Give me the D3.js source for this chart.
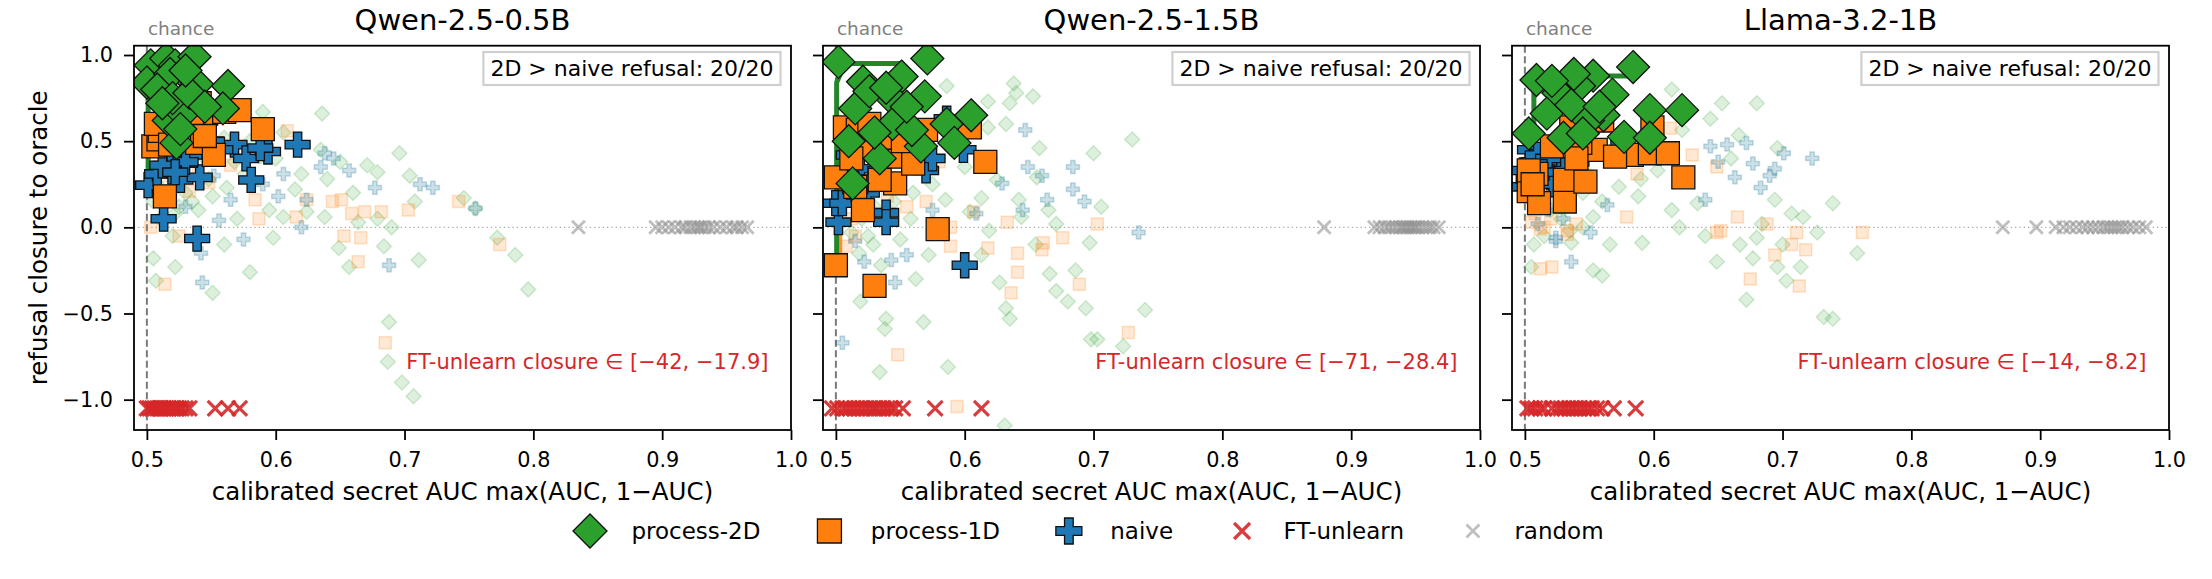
<!DOCTYPE html>
<html lang="en">
  <head>
    <meta charset="UTF-8" />
    <title>Refusal closure vs secret AUC</title>
    <script src="https://d3js.org/d3.v7.min.js"></script>
    <style>
      body {
        margin: 0;
        background: #fff;
      }
      svg {
        display: block;
        font-family: "DejaVu Sans", sans-serif;
      }
    </style>
  </head>
  <body>
    <div id="chart"></div>
    <script>
      // ---- data: [AUC, refusal closure] pairs ----
      const titles = ["Qwen-2.5-0.5B", "Qwen-2.5-1.5B", "Llama-3.2-1B"];
      const ftRanges = ["[−42, −17.9]", "[−71, −28.4]", "[−14, −8.2]"];
      const winCounts = ["20/20", "20/20", "20/20"];

      const xTicks = [0.5, 0.6, 0.7, 0.8, 0.9, 1.0];
      const yTicks = [-1.0, -0.5, 0.0, 0.5, 1.0];

      // Qwen-2.5-0.5B
      const q05_proc2d = [[.503,.94],[.500,.84],[.515,.98],[.522,.94],[.537,.99],[.532,.87],[.539,.83],[.563,.82],[.559,.69],[.517,.62],[.528,.66],[.523,.49],[.518,.89],[.508,.80],[.520,.75],[.533,.78],[.526,.57],[.545,.70],[.512,.72],[.530,.91]];
      const q05_proc1d = [[.505,.47],[.509,.51],[.510,.56],[.514,.18],[.520,.74],[.531,.51],[.539,.49],[.541,.72],[.546,.66],[.552,.42],[.560,.67],[.572,.68],[.590,.57],[.516,.62],[.525,.55],[.535,.61],[.507,.60],[.528,.70],[.545,.53],[.518,.48]];
      const q05_naive = [[.501,.245],[.508,.31],[.519,.36],[.526,.275],[.541,.29],[.536,.42],[.546,.47],[.568,.48],[.577,.40],[.581,.275],[.594,.44],[.617,.48],[.513,.05],[.539,-.065],[.550,.50],[.512,.36],[.530,.38],[.557,.45],[.588,.46],[.522,.32]];
      const q05_ft = [.500,.502,.504,.506,.508,.510,.511,.513,.515,.517,.519,.521,.523,.525,.527,.530,.533,.553,.563,.572];
      const q05_random = [.835,.895,.900,.905,.910,.915,.918,.922,.925,.928,.930,.933,.936,.940,.945,.950,.955,.958,.962,.966];
      const q05_front2d = [[.501,.25],[.501,.84],[.503,.94]];
      const q05_front1d = [];
      const q05_faint2d = [[.636,.66],[.696,.43],[.671,.36],[.679,.32],[.704,.30],[.708,.15],[.746,.17],[.755,.11],[.590,.67],[.606,.55],[.588,.41],[.620,.31],[.551,.18],[.540,.10],[.522,.08],[.624,.09],[.638,.06],[.664,.03],[.679,.05],[.598,-.06],[.649,-.12],[.657,-.23],[.684,-.11],[.711,-.19],[.772,-.06],[.786,-.16],[.796,-.36],[.522,-.23],[.580,-.26],[.551,-.38],[.507,-.31],[.606,.06],[.562,.23],[.576,.31],[.635,.45],[.688,-.55],[.687,-.78],[.698,-.90],[.707,-.98],[.530,.20],[.515,.35],[.545,.40],[.560,.52],[.580,.50],[.600,.40],[.650,.38],[.660,.20],[.690,.00],[.570,.05],[.510,.05],[.505,.15],[.615,.22],[.640,.28],[.520,-.05],[.560,-.10],[.505,-.18],[.512,.22],[.535,.15],[.548,.28],[.525,.12],[.568,.38],[.595,.10]];
      const q05_faint1d = [[.609,.56],[.742,.15],[.703,.10],[.682,.09],[.669,.09],[.659,.08],[.651,.16],[.644,.15],[.624,.16],[.616,.06],[.587,.05],[.584,.16],[.774,-.10],[.666,-.06],[.653,-.05],[.525,-.05],[.664,-.20],[.514,-.33],[.503,.00],[.533,.21],[.565,.36],[.685,-.67],[.548,.26],[.520,.52],[.512,.30],[.540,.33]];
      const q05_faintNaive = [[.638,.43],[.657,.33],[.677,.23],[.712,.25],[.722,.23],[.755,.11],[.624,.16],[.620,.00],[.575,-.07],[.542,-.15],[.688,-.22],[.543,-.32],[.556,.04],[.565,.16],[.606,.31],[.635,.35],[.602,.18],[.645,.40],[.590,.25],[.530,.12],[.518,.20],[.552,.30]];

      // Qwen-2.5-1.5B
      const q15_proc2d = [[.502,.96],[.571,.98],[.521,.845],[.551,.875],[.569,.76],[.543,.75],[.515,.69],[.544,.60],[.586,.60],[.605,.65],[.510,.50],[.566,.47],[.592,.49],[.534,.40],[.513,.255],[.559,.565],[.526,.79],[.539,.81],[.530,.55],[.555,.70]];
      const q15_proc1d = [[.500,-.22],[.530,-.34],[.579,-.01],[.507,.58],[.517,.565],[.526,.60],[.526,.47],[.544,.41],[.546,.255],[.500,.29],[.534,.275],[.521,.10],[.616,.38],[.570,.565],[.604,.58],[.560,.37],[.515,.235],[.538,.52],[.552,.50],[.512,.40]];
      const q15_naive = [[.502,.03],[.500,.14],[.539,.085],[.519,.34],[.570,.33],[.586,.63],[.599,.45],[.524,.20],[.505,.14],[.600,-.22],[.539,.03],[.510,.42],[.530,.45],[.555,.38],[.545,.52],[.565,.55],[.508,.30],[.528,.28],[.575,.40],[.515,.22]];
      const q15_ft = [.497,.501,.505,.508,.511,.514,.517,.520,.523,.526,.529,.531,.534,.537,.540,.543,.546,.552,.577,.613];
      const q15_random = [.879,.918,.922,.926,.929,.932,.935,.938,.940,.942,.944,.946,.948,.950,.952,.955,.958,.961,.964,.968];
      const q15_front2d = [[.5006,-.15],[.5006,.84],[.507,.95],[.552,.95]];
      const q15_front1d = [[.503,-.15],[.503,.30]];
      const q15_faint2d = [[.638,.835],[.640,.78],[.653,.76],[.635,.72],[.618,.73],[.586,.82],[.618,.58],[.632,.60],[.658,.46],[.700,.43],[.706,.12],[.625,.275],[.613,.17],[.585,.16],[.604,.09],[.642,.16],[.644,.06],[.671,.02],[.656,.29],[.730,.51],[.550,-.07],[.529,-.10],[.535,-.22],[.519,-.43],[.539,-.53],[.538,-.59],[.568,-.55],[.534,-.84],[.587,-.81],[.613,-.16],[.562,-.30],[.627,-.32],[.632,-.47],[.635,-.53],[.671,-.37],[.680,-.43],[.694,-.47],[.686,-.25],[.666,-.27],[.698,-.65],[.631,-1.15],[.697,-.09],[.655,-.10],[.619,-.02],[.572,-.16],[.518,-.15],[.740,-.48],[.703,-.65],[.723,-.69],[.560,.20],[.540,.30],[.575,.25],[.600,.35],[.520,.05],[.590,.45],[.665,.10],[.530,.12],[.512,-.03],[.545,.15],[.525,-.05],[.558,.05]];
      const q15_faint1d = [[.703,.02],[.633,.03],[.607,.09],[.661,-.09],[.589,.00],[.555,.12],[.570,.15],[.618,-.12],[.641,-.15],[.660,-.13],[.676,-.06],[.641,-.26],[.636,-.38],[.689,-.33],[.589,-.11],[.548,-.74],[.594,-1.04],[.508,-.11],[.727,-.61],[.530,.08],[.515,-.05],[.580,.38],[.512,.05],[.540,.18]];
      const q15_faintNaive = [[.647,.565],[.649,.35],[.684,.35],[.629,.255],[.684,.22],[.693,.15],[.645,.10],[.664,.16],[.609,.08],[.555,-.16],[.543,-.19],[.522,-.20],[.546,-.32],[.505,-.67],[.735,-.03],[.620,.40],[.660,.30],[.575,.10],[.515,-.08]];

      // Llama-3.2-1B
      const l1_proc2d = [[.509,.855],[.584,.93],[.553,.88],[.542,.82],[.526,.78],[.568,.77],[.517,.66],[.561,.65],[.549,.62],[.597,.68],[.622,.68],[.503,.545],[.530,.52],[.577,.525],[.597,.52],[.545,.545],[.536,.71],[.558,.70],[.538,.89],[.521,.85]];
      const l1_proc1d = [[.503,.21],[.511,.14],[.531,.15],[.531,.275],[.547,.265],[.509,.31],[.503,.33],[.555,.45],[.583,.42],[.597,.43],[.611,.43],[.623,.29],[.599,.58],[.536,.58],[.543,.49],[.521,.47],[.570,.41],[.506,.25],[.560,.62],[.540,.40]];
      const l1_naive = [[.499,.33],[.504,.45],[.507,.38],[.516,.36],[.524,.38],[.535,.35],[.520,.29],[.499,.235],[.570,.44],[.512,.27],[.528,.31],[.510,.42],[.503,.28],[.518,.40],[.540,.38],[.531,.33],[.506,.31],[.522,.25],[.545,.42],[.514,.32]];
      const l1_ft = [.502,.505,.508,.512,.515,.521,.525,.528,.531,.534,.537,.540,.543,.546,.549,.552,.556,.560,.569,.586];
      const l1_random = [.871,.897,.912,.918,.923,.928,.933,.937,.941,.945,.949,.952,.955,.958,.961,.964,.968,.972,.977,.982];
      const l1_front2d = [[.507,.60],[.507,.855],[.529,.878],[.582,.878]];
      const l1_front1d = [];
      const l1_faint2d = [[.614,.80],[.653,.72],[.680,.72],[.644,.63],[.666,.535],[.696,.46],[.622,.565],[.603,.33],[.573,.235],[.588,.18],[.614,.10],[.634,.14],[.694,.16],[.684,.02],[.716,.06],[.553,.06],[.535,-.02],[.507,-.10],[.536,-.09],[.566,-.10],[.591,-.09],[.553,-.25],[.560,-.28],[.649,-.20],[.667,-.10],[.677,-.18],[.672,-.42],[.696,-.23],[.714,-.23],[.703,-.31],[.680,-.06],[.505,-.23],[.732,-.52],[.739,-.53],[.758,-.15],[.739,.14],[.707,.08],[.727,-.03],[.520,.10],[.545,.20],[.530,.35],[.575,.40],[.600,.50],[.590,.28],[.560,.15],[.625,.30],[.660,.40],[.515,-.05],[.545,.00],[.640,-.05],[.700,-.10],[.620,.00],[.510,.15],[.528,.05],[.550,.30]];
      const l1_faint1d = [[.613,.575],[.630,.42],[.649,.35],[.587,.31],[.579,.06],[.665,.06],[.688,.02],[.711,-.03],[.652,-.02],[.533,-.02],[.649,-.03],[.694,-.16],[.707,-.10],[.718,-.13],[.675,-.30],[.713,-.34],[.512,-.24],[.521,-.23],[.533,-.04],[.512,-.01],[.762,-.03],[.505,.03],[.520,.05],[.540,.02],[.508,.08],[.515,.00]];
      const l1_faintNaive = [[.644,.47],[.657,.48],[.672,.49],[.677,.37],[.663,.29],[.694,.34],[.701,.43],[.640,.16],[.564,.13],[.524,-.06],[.536,-.20],[.524,-.08],[.551,-.03],[.723,.40],[.683,.23],[.510,.02],[.530,.05],[.690,.30],[.650,.38],[.518,.10]];

      const FT_Y = -1.05; // FT-unlearn values are off-scale, drawn at the floor
      const RANDOM_Y = 0.0;

      const panels = [
        { title: titles[0], ft: ftRanges[0], wins: winCounts[0], p2d: q05_proc2d, p1d: q05_proc1d, naive: q05_naive, ftx: q05_ft, rnd: q05_random, f2d: q05_front2d, f1d: q05_front1d, g2d: q05_faint2d, g1d: q05_faint1d, gnv: q05_faintNaive },
        { title: titles[1], ft: ftRanges[1], wins: winCounts[1], p2d: q15_proc2d, p1d: q15_proc1d, naive: q15_naive, ftx: q15_ft, rnd: q15_random, f2d: q15_front2d, f1d: q15_front1d, g2d: q15_faint2d, g1d: q15_faint1d, gnv: q15_faintNaive },
        { title: titles[2], ft: ftRanges[2], wins: winCounts[2], p2d: l1_proc2d, p1d: l1_proc1d, naive: l1_naive, ftx: l1_ft, rnd: l1_random, f2d: l1_front2d, f1d: l1_front1d, g2d: l1_faint2d, g1d: l1_faint1d, gnv: l1_faintNaive },
      ];

      const GREEN = "#2ca02c", ORANGE = "#ff7f0e", BLUE = "#1f77b4", RED = "#d62728";

      // ---- layout ----
      const W = 2212, H = 579;
      const panelLefts = [134, 823, 1512];
      const plotW = 657;
      const plotTop = 45.7, plotBottom = 430;

      const svg = d3.select("#chart").append("svg").attr("width", W).attr("height", H);

      // matplotlib-like marker paths, s = full extent in px
      function marker(type, s) {
        const h = s / 2;
        if (type === "D") return `M0,${-h}L${h},0L0,${h}L${-h},0Z`;
        if (type === "s") return `M${-h},${-h}H${h}V${h}H${-h}Z`;
        if (type === "P") {
          const a = s / 6;
          return `M${-a},${-h}H${a}V${-a}H${h}V${a}H${a}V${h}H${-a}V${a}H${-h}V${-a}H${-a}Z`;
        }
        return `M${-h},${-h}L${h},${h}M${-h},${h}L${h},${-h}`;
      }

      function drawFaint(g, pts, type, size, color, op, x, y) {
        g.append("g").selectAll("path").data(pts).join("path")
          .attr("d", marker(type, size))
          .attr("transform", (d) => `translate(${x(d[0])},${y(d[1])})`)
          .attr("fill", color).attr("fill-opacity", op)
          .attr("stroke", color).attr("stroke-opacity", op + 0.04).attr("stroke-width", 1.5);
      }

      function drawBig(g, pts, type, size, color, x, y) {
        g.append("g").selectAll("path").data(pts).join("path")
          .attr("d", marker(type, size))
          .attr("transform", (d) => `translate(${x(d[0])},${y(d[1])})`)
          .attr("fill", color).attr("stroke", "#111").attr("stroke-width", 1.3);
      }

      function drawX(g, xs, yv, size, color, width, opacity, x, y) {
        g.append("g").selectAll("path").data(xs).join("path")
          .attr("d", marker("x", size))
          .attr("transform", (d) => `translate(${x(d)},${y(yv)})`)
          .attr("fill", "none").attr("stroke", color)
          .attr("stroke-width", width).attr("stroke-opacity", opacity);
      }

      panels.forEach((p, i) => {
        const L = panelLefts[i];
        const x = d3.scaleLinear().domain([0.49, 1.0]).range([L, L + plotW]);
        const y = d3.scaleLinear().domain([-1.176, 1.054]).range([plotBottom, plotTop]);

        svg.append("clipPath").attr("id", `clip${i}`)
          .append("rect").attr("x", L).attr("y", plotTop)
          .attr("width", plotW).attr("height", plotBottom - plotTop);

        const g = svg.append("g").attr("clip-path", `url(#clip${i})`);

        // reference lines
        g.append("line")
          .attr("x1", L).attr("x2", L + plotW).attr("y1", y(0)).attr("y2", y(0))
          .attr("stroke", "#aaa").attr("stroke-width", 1.3).attr("stroke-dasharray", "1.3,3");
        g.append("line")
          .attr("x1", x(0.5)).attr("x2", x(0.5)).attr("y1", plotTop).attr("y2", plotBottom)
          .attr("stroke", "#7a7a7a").attr("stroke-width", 2).attr("stroke-dasharray", "7,3.5");

        // per-layer / per-config faint points
        drawFaint(g, p.g2d, "D", 15, GREEN, 0.16, x, y);
        drawFaint(g, p.g1d, "s", 12, ORANGE, 0.18, x, y);
        drawFaint(g, p.gnv, "P", 13, "#2a7f9e", 0.24, x, y);

        // frontier lines
        const line = d3.line().x((d) => x(d[0])).y((d) => y(d[1]));
        if (p.f1d.length)
          g.append("path").datum(p.f1d).attr("d", line).attr("fill", "none")
            .attr("stroke", ORANGE).attr("stroke-width", 5).attr("stroke-opacity", 0.85);
        g.append("path").datum(p.f2d).attr("d", line).attr("fill", "none")
          .attr("stroke", "#24852a").attr("stroke-width", 5).attr("stroke-linejoin", "round");

        drawX(g, p.rnd, RANDOM_Y, 13, "#8a8a8a", 2.8, 0.55, x, y);
        drawX(g, p.ftx, FT_Y, 15, RED, 3.2, 0.9, x, y);

        drawBig(g, p.naive, "P", 25, BLUE, x, y);
        drawBig(g, p.p1d, "s", 23, ORANGE, x, y);
        drawBig(g, p.p2d, "D", 33, GREEN, x, y);

        // axes
        const xAxis = svg.append("g").attr("transform", `translate(0,${plotBottom})`)
          .call(d3.axisBottom(x).tickValues(xTicks).tickSize(10).tickPadding(12).tickFormat(d3.format(".1f")));
        const yAxis = svg.append("g").attr("transform", `translate(${L},0)`)
          .call(d3.axisLeft(y).tickValues(yTicks).tickSize(10).tickPadding(11).tickFormat(d3.format(".1f")));
        [xAxis, yAxis].forEach((a) => {
          a.select(".domain").remove();
          a.selectAll("line").attr("stroke", "#000").attr("stroke-width", 1.8);
          a.selectAll("text").attr("font-size", 20.8).attr("fill", "#000")
            .attr("font-family", '"DejaVu Sans", sans-serif');
        });
        if (i > 0) yAxis.selectAll("text").remove();

        svg.append("rect").attr("x", L).attr("y", plotTop)
          .attr("width", plotW).attr("height", plotBottom - plotTop)
          .attr("fill", "none").attr("stroke", "#000").attr("stroke-width", 1.8);

        // titles & annotations
        svg.append("text").attr("x", L + plotW / 2).attr("y", 29.5)
          .attr("text-anchor", "middle").attr("font-size", 29).text(p.title);

        svg.append("text").attr("x", x(0.5) + 1).attr("y", 35)
          .attr("font-size", 18.5).attr("fill", "#808080").text("chance");

        svg.append("text").attr("x", L + plotW / 2).attr("y", 500)
          .attr("text-anchor", "middle").attr("font-size", 24.5)
          .text("calibrated secret AUC max(AUC, 1\u2212AUC)");

        const box = svg.append("g");
        const bt = box.append("text").attr("x", L + plotW - 17.5).attr("y", 76)
          .attr("text-anchor", "end").attr("font-size", 22)
          .text(`2D > naive refusal: ${p.wins}`);
        const bw = bt.node().getComputedTextLength();
        box.insert("rect", "text")
          .attr("x", L + plotW - 17.5 - bw - 7).attr("y", 52)
          .attr("width", bw + 14).attr("height", 33)
          .attr("fill", "#fff").attr("stroke", "#cfcfcf").attr("stroke-width", 2.2);

        svg.append("text").attr("x", L + plotW - 22.5).attr("y", 369)
          .attr("text-anchor", "end").attr("font-size", 21).attr("fill", RED)
          .text(`FT-unlearn closure \u2208 ${p.ft}`);
      });

      // y label
      svg.append("text")
        .attr("transform", `translate(47,${(plotTop + plotBottom) / 2}) rotate(-90)`)
        .attr("text-anchor", "middle").attr("font-size", 24.5)
        .text("refusal closure to oracle");

      // legend
      const legendItems = [
        { label: "process-2D", type: "D", size: 34, fill: GREEN },
        { label: "process-1D", type: "s", size: 24, fill: ORANGE },
        { label: "naive", type: "P", size: 26, fill: BLUE },
        { label: "FT-unlearn", type: "x", size: 16, stroke: RED, sw: 3.2, op: 0.9 },
        { label: "random", type: "x", size: 13, stroke: "#8a8a8a", sw: 2.8, op: 0.55 },
      ];
      const legend = svg.append("g");
      const fs = 23, handle = 2 * fs, pad = 0.8 * fs, colSpace = 2 * fs, ly = 531;
      let cx = 567;
      legendItems.forEach((it) => {
        const m = legend.append("path").attr("d", marker(it.type, it.size))
          .attr("transform", `translate(${cx + handle / 2},${ly})`);
        if (it.type === "x") {
          m.attr("fill", "none").attr("stroke", it.stroke)
            .attr("stroke-width", it.sw).attr("stroke-opacity", it.op);
        } else {
          m.attr("fill", it.fill).attr("stroke", "#111").attr("stroke-width", 1.3);
        }
        const t = legend.append("text").attr("x", cx + handle + pad).attr("y", ly + 8)
          .attr("font-size", fs).text(it.label);
        cx += handle + pad + t.node().getComputedTextLength() + colSpace;
      });
    </script>
  </body>
</html>
